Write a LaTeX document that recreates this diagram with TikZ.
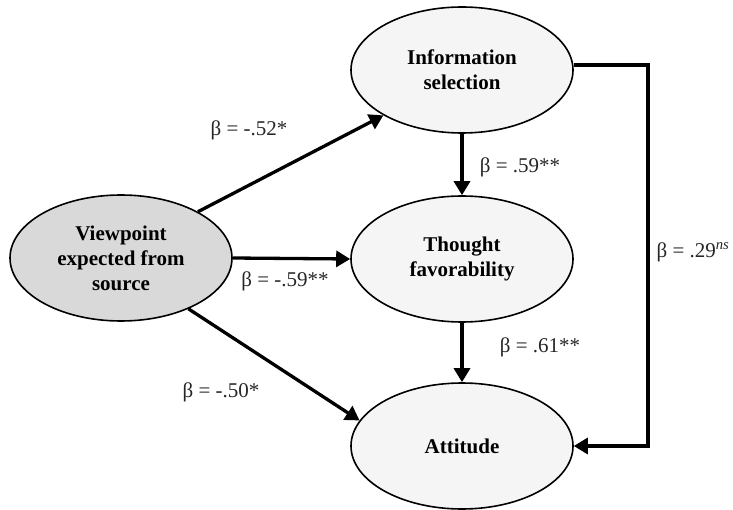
\documentclass[tikz,border=0pt]{standalone}
\usepackage{fontspec}
\setmainfont{Liberation Serif}
\usetikzlibrary{arrows.meta,shapes.geometric}

\definecolor{srcgray}{HTML}{D9D9D9}
\definecolor{varfill}{HTML}{F5F5F5}

\tikzset{
    latent/.style={ellipse, draw, line width=1.6pt, fill=varfill,
        minimum width=222pt, minimum height=126pt, inner sep=0pt,
        align=center, font=\fontsize{21}{25}\selectfont\bfseries},
    path/.style={line width=3.3pt, -{Triangle[length=14pt,width=16pt]}},
    coef/.style={font=\fontsize{21}{25}\selectfont, text=black!85}
}

\begin{document}
\begin{tikzpicture}[x=1pt,y=-1pt]
    \useasboundingbox (0,0) rectangle (733,510);

    \node[latent, fill=srcgray] (view) at (121,258) {Viewpoint\\expected from\\source};
    \node[latent] (info) at (462,70) {Information\\selection};
    \node[latent] (thought) at (462,259) {Thought\\favorability};
    \node[latent] (att) at (462,446) {Attitude};

    \draw[path] (view.31) -- (info.210);
    \draw[path] (view.east) -- (thought.west);
    \draw[path] (view.-37) -- (att.166);
    \draw[path] (info.south) -- (thought.north);
    \draw[path] (thought.south) -- (att.north);

    % direct path from information selection
    \coordinate (bend) at (648,65);
    \draw[path] (info.east |- bend) -- (bend) -- (bend |- att.east) -- (att.east);

    \node[coef] (c1) at (249,130) {β = -.52*};
    \node[coef] (c2) at (520,167) {β = .59**};
    \node[coef] (c3) at (285,281) {β = -.59**};
    \node[coef] (c4) at (221,392) {β = -.50*};
    \node[coef] (c5) at (540,347) {β = .61**};
    \node[coef] (c6) at (693,252) {β = .29\textsuperscript{\itshape ns}};
\end{tikzpicture}
\end{document}
